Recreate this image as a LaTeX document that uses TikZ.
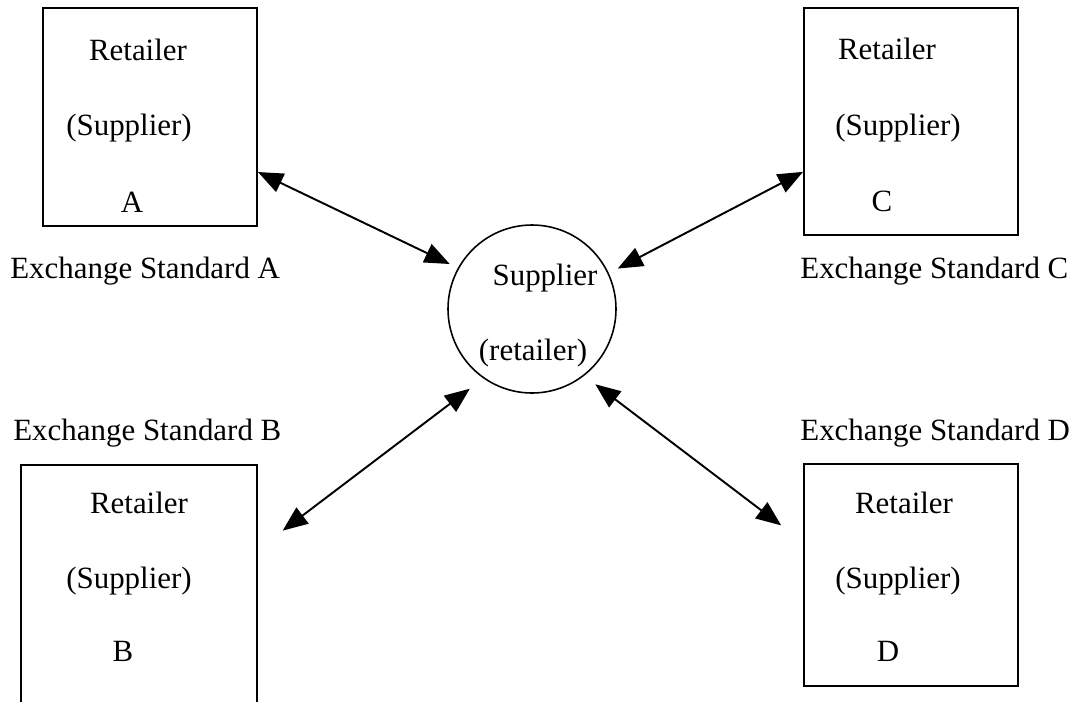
\documentclass[tikz,border=0pt]{standalone}
\usepackage{fontspec}
\setmainfont{Liberation Serif}
\usetikzlibrary{arrows.meta, positioning, calc}

\tikzset{
  box/.style={draw, line width=1.1pt, minimum width=4.28cm, inner sep=0pt},
  hubnode/.style={draw, circle, line width=0.9pt, minimum size=3.36cm, inner sep=0pt},
  txt/.style={anchor=base, inner sep=0pt, font=\fontsize{17.6}{21}\selectfont},
  lbl/.style={anchor=base west, inner sep=0pt, font=\fontsize{17.6}{21}\selectfont},
  link/.style={line width=1.1pt, {Triangle[length=0.5cm, width=0.4cm]}-{Triangle[length=0.5cm, width=0.4cm]}}
}

\begin{document}
\begin{tikzpicture}
		\useasboundingbox (0,0) rectangle (21.62,-14.02);

		% Boxes and hub
		\node[box, minimum height=4.36cm] (A) at (3.00,-2.34) {};
		\node[box, minimum height=4.54cm] (C) at (18.22,-2.43) {};
		\node[box, minimum width=4.72cm, minimum height=4.92cm] (B) at (2.78,-11.76) {};
		\node[box, minimum height=4.44cm] (D) at (18.22,-11.50) {};
		\node[hubnode] (hub) at (10.64,-6.18) {};

		% Box texts
		\node[txt] (A-ret) at (2.76,-1.20) {Retailer};
		\node[txt] (A-sup) at (2.58,-2.70) {(Supplier)};
		\node[txt] (A-id) at (2.64,-4.24) {A};

		\node[txt] (C-ret) at (17.74,-1.18) {Retailer};
		\node[txt] (C-sup) at (17.96,-2.70) {(Supplier)};
		\node[txt] (C-id) at (17.64,-4.22) {C};

		\node[txt] (B-ret) at (2.78,-10.26) {Retailer};
		\node[txt] (B-sup) at (2.58,-11.76) {(Supplier)};
		\node[txt] (B-id) at (2.46,-13.22) {B};

		\node[txt] (D-ret) at (18.08,-10.26) {Retailer};
		\node[txt] (D-sup) at (17.96,-11.76) {(Supplier)};
		\node[txt] (D-id) at (17.76,-13.22) {D};

		\node[txt] (hub-sup) at (10.90,-5.70) {Supplier};
		\node[txt] (hub-ret) at (10.66,-7.20) {(retailer)};

		% Exchange standards
		\node[lbl] (stdA) at (0.20,-5.56) {Exchange Standard A};
		\node[lbl] (stdC) at (16.00,-5.56) {Exchange Standard C};
		\node[lbl] (stdB) at (0.26,-8.80) {Exchange Standard B};
		\node[lbl] (stdD) at (16.00,-8.80) {Exchange Standard D};

		% Links
		\draw[link, shorten >=0.18cm] (A.-27) -- (hub.151.8);
		\draw[link, shorten >=0.20cm] (C.205.7) -- (hub.25.2);
		\draw[link, shorten <=0.62cm, shorten >=0.34cm] (B.18.7) -- (hub.-125.7);
		\draw[link, shorten <=0.55cm, shorten >=0.28cm] (D.163.8) -- (hub.-52.4);
	\end{tikzpicture}
\end{document}
